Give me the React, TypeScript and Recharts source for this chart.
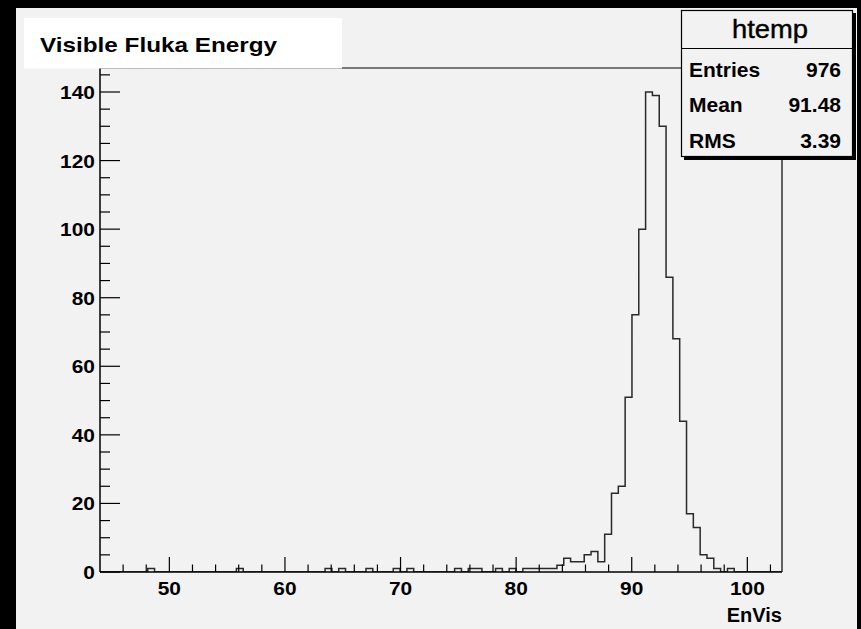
import React from "react";
import { ComposedChart, Line, XAxis, YAxis, ReferenceLine } from "recharts";

// histogram binning (ROOT htemp, 100 bins)
const binLow = 44;
const binWidth = 0.59;

// entries per bin
const binCounts = [
  0, 0, 0, 0, 0, 0, 0, 1, 0, 0,
  0, 0, 0, 0, 0, 0, 0, 0, 0, 0,
  1, 0, 0, 0, 0, 0, 0, 0, 0, 0,
  0, 0, 0, 1, 0, 1, 0, 0, 0, 1,
  0, 0, 0, 1, 0, 1, 0, 0, 0, 0,
  0, 0, 1, 0, 1, 1, 0, 0, 1, 0,
  1, 0, 1, 1, 1, 1, 1, 2, 4, 3,
  3, 5, 6, 3, 11, 23, 25, 51, 75, 100,
  140, 139, 130, 86, 68, 44, 17, 13, 5, 4,
  1, 0, 1, 0, 0, 0, 0, 0, 0, 0,
];

const xTicks = [46, 48, 50, 52, 54, 56, 58, 60, 62, 64, 66, 68, 70, 72, 74, 76, 78, 80, 82, 84, 86, 88, 90, 92, 94, 96, 98, 100, 102];
const xLabelTicks = [50, 60, 70, 80, 90, 100];
const yTicks = [0, 5, 10, 15, 20, 25, 30, 35, 40, 45, 50, 55, 60, 65, 70, 75, 80, 85, 90, 95, 100, 105, 110, 115, 120, 125, 130, 135, 140, 145];
const yLabelTicks = [0, 20, 40, 60, 80, 100, 120, 140];

const titleText = "Visible Fluka Energy";
const xAxisTitle = "EnVis";
const statsTitle = "htemp";
const statsLabels = ["Entries", "Mean", "RMS"];
const statsValues = ["976", "91.48", "3.39"];
const statsRowY = [77, 112, 148];

const FONT = '"Liberation Sans", Arial, Helvetica, sans-serif';

// step points: left edge of every bin, plus closing point at upper edge
const histData = binCounts.map((c, i) => ({ x: binLow + i * binWidth, count: c }));
histData.push({ x: binLow + binCounts.length * binWidth, count: binCounts[binCounts.length - 1] });

const XTick = (props: any) => {
  const { x, y, payload } = props;
  const major = xLabelTicks.includes(payload.value);
  return (
    <g>
      <line x1={x} x2={x} y1={y} y2={y - (major ? 15 : 7.5)} stroke="#000" strokeWidth={1.2} />
      {major && (
        <g transform={`translate(${x},${y + 23}) scale(1.1,1)`}>
          <text textAnchor="middle" fontFamily={FONT} fontWeight="bold" fontSize={19} fill="#000">
            {payload.value}
          </text>
        </g>
      )}
    </g>
  );
};

const YTick = (props: any) => {
  const { x, y, payload } = props;
  const major = yLabelTicks.includes(payload.value);
  return (
    <g>
      <line x1={x} x2={x + (major ? 20 : 10)} y1={y} y2={y} stroke="#000" strokeWidth={1.2} />
      {major && (
        <g transform={`translate(${x - 5},${y + 7}) scale(1.1,1)`}>
          <text textAnchor="end" fontFamily={FONT} fontWeight="bold" fontSize={19} fill="#000">
            {payload.value}
          </text>
        </g>
      )}
    </g>
  );
};

export default function App() {
  return (
    <div style={{ position: "fixed", left: 0, top: 0, width: 861, height: 629, background: "#000", overflow: "hidden" }}>
      {/* canvas pad */}
      <div style={{ position: "absolute", left: 16, top: 8, width: 841, height: 621, background: "#f2f2f2" }} />
      <div style={{ position: "absolute", left: 0, top: 0 }}>
        <ComposedChart width={861} height={629} data={histData} margin={{ top: 68, right: 79, bottom: 17, left: 40 }}>
          <XAxis
            dataKey="x"
            type="number"
            domain={[44, 103]}
            ticks={xTicks}
            interval={0}
            height={40}
            tickSize={0}
            tickMargin={0}
            tickLine={false}
            tick={<XTick />}
            axisLine={{ stroke: "#000", strokeWidth: 1.5 }}
            allowDataOverflow
          />
          <YAxis
            type="number"
            domain={[0, 147]}
            ticks={yTicks}
            interval={0}
            width={60}
            tickSize={0}
            tickMargin={0}
            tickLine={false}
            tick={<YTick />}
            axisLine={{ stroke: "#000", strokeWidth: 1.5 }}
            allowDataOverflow
          />
          <ReferenceLine y={147} stroke="#000" strokeWidth={1.2} />
          <ReferenceLine x={103} stroke="#000" strokeWidth={1.2} />
          <Line
            type="stepAfter"
            dataKey="count"
            stroke="#2a2a2a"
            strokeWidth={1.5}
            dot={false}
            activeDot={false}
            isAnimationActive={false}
          />
        </ComposedChart>
      </div>
      <svg style={{ position: "absolute", left: 0, top: 0 }} width={861} height={629}>
        {/* title pave */}
        <rect x={24} y={18} width={318} height={50.5} fill="#fff" />
        <text x={40} y={52} fontFamily={FONT} fontWeight="bold" fontSize={21} textLength={237} lengthAdjust="spacingAndGlyphs" fill="#000">
          {titleText}
        </text>
        {/* stats box */}
        <rect x={684} y={13} width={172} height={147} fill="#000" />
        <rect x={681.5} y={10.5} width={171} height={146} fill="#f2f2f2" stroke="#000" strokeWidth={1.2} />
        <line x1={681.5} x2={852.5} y1={48.5} y2={48.5} stroke="#000" strokeWidth={1.2} />
        <text x={770} y={38} textAnchor="middle" fontFamily={FONT} fontSize={26} fill="#000" textLength={76} lengthAdjust="spacingAndGlyphs" stroke="#000" strokeWidth={0.4}>
          {statsTitle}
        </text>
        {statsLabels.map((lab, i) => (
          <g key={lab}>
            <text x={689} y={statsRowY[i]} fontFamily={FONT} fontWeight="bold" fontSize={21} fill="#000">
              {lab}
            </text>
            <text x={841} y={statsRowY[i]} textAnchor="end" fontFamily={FONT} fontWeight="bold" fontSize={21} fill="#000">
              {statsValues[i]}
            </text>
          </g>
        ))}
        <text x={782} y={622} textAnchor="end" fontFamily={FONT} fontWeight="bold" fontSize={20} fill="#000">
          {xAxisTitle}
        </text>
      </svg>
    </div>
  );
}
